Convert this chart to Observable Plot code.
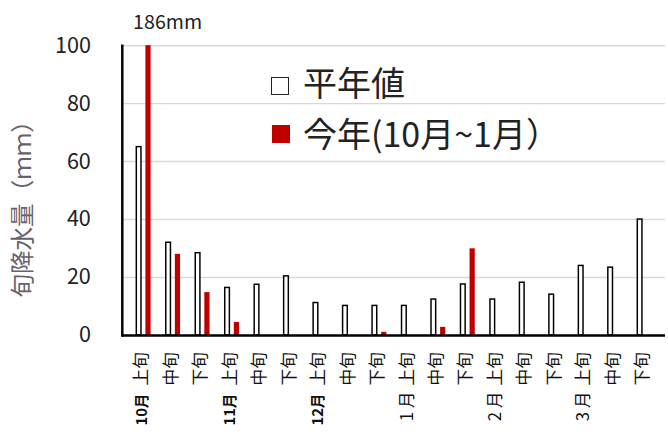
<!DOCTYPE html>
<html>
<head>
<meta charset="utf-8">
<script src="https://cdn.jsdelivr.net/npm/d3@7"></script>
<script src="https://cdn.jsdelivr.net/npm/@observablehq/plot@0.6"></script>
<style>
  html, body { margin: 0; padding: 0; background: #fff; overflow: hidden; }
  #wrap { position: relative; width: 668px; height: 434px; overflow: hidden; }
  .leg { position: absolute; font-family: "Noto Sans CJK JP", sans-serif; color: #222; font-size: 34px; line-height: 1; white-space: nowrap; }
  .sw { position: absolute; box-sizing: border-box; }
</style>
</head>
<body>
<div id="wrap"></div>
<script>
const categories = ["10月上旬","10月中旬","10月下旬","11月上旬","11月中旬","11月下旬","12月上旬","12月中旬","12月下旬","1月上旬","1月中旬","1月下旬","2月上旬","2月中旬","2月下旬","3月上旬","3月中旬","3月下旬"];
const junLabels = ["上旬","中旬","下旬","上旬","中旬","下旬","上旬","中旬","下旬","上旬","中旬","下旬","上旬","中旬","下旬","上旬","中旬","下旬"];
const monthLabels = ["10月","","","11月","","","12月","","","1 月","","","2 月","","","3 月","",""];
const boldMonth = [true,false,false,true,false,false,true,false,false,false,false,false,false,false,false,false,false,false];
const normalValues = [65, 32, 28.4, 16.4, 17.5, 20.4, 11.2, 10.2, 10.2, 10.2, 12.4, 17.6, 12.4, 18.2, 14.1, 24.0, 23.4, 40.0];
const thisYearValues = [186, 28, 14.8, 4.5, 0, 0, 0, 0, 1.1, 0, 2.8, 29.9, null, null, null, null, null, null];
const yTicks = [0, 20, 40, 60, 80, 100];
const yLabel = "旬降水量（ｍｍ）";
const legendNormal = "平年値";
const legendThisYear = "今年(10月~1月）";

const normalData = categories.map((c, i) => ({cat: c, v: normalValues[i]}));
const yearData = categories.map((c, i) => ({cat: c, v: thisYearValues[i]})).filter(d => d.v != null);
const overflow = yearData.filter(d => d.v > 100);
const labelData = categories.map((c, i) => ({cat: c, jun: junLabels[i], month: monthLabels[i], bold: boldMonth[i]}));

const font = "Noto Sans CJK JP, sans-serif";

const chart = Plot.plot({
  width: 680,
  height: 434,
  marginTop: 46,
  marginBottom: 93,
  marginLeft: 124,
  marginRight: 3,
  style: {fontFamily: font, background: "#fff"},
  x: {domain: categories, padding: 0, axis: null},
  y: {domain: [0, 100], clamp: true, axis: null},
  marks: [
    Plot.gridY(yTicks, {stroke: "#d9d9d9", strokeOpacity: 1, strokeWidth: 1.5}),
    Plot.axisY(yTicks, {tickSize: 0, tickPadding: 32, fontSize: 22, fill: "#222", label: null}),
    Plot.text([yLabel], {frameAnchor: "left", textAnchor: "middle", lineAnchor: "middle", rotate: -90, dx: -101, dy: 13, fontSize: 24, fill: "#6a5f6a"}),
    Plot.barY(normalData, {x: "cat", y: "v", fill: "white", stroke: "black", strokeWidth: 1.5, insetLeft: 7.75, insetRight: 17.5}),
    Plot.barY(yearData, {x: "cat", y: "v", fill: "#c00000", insetLeft: 17, insetRight: 7.7}),
    Plot.text(overflow, {x: "cat", y: 100, text: d => `${d.v}mm`, textAnchor: "start", dx: -11, dy: -23, fontSize: 20, fill: "#222"}),
    Plot.ruleY([0], {stroke: "black", strokeWidth: 2.5}),
    Plot.frame({anchor: "left", stroke: "black", strokeWidth: 2.5}),
    Plot.text(labelData, {x: "cat", text: "jun", frameAnchor: "bottom", rotate: -90, textAnchor: "end", lineAnchor: "middle", dx: -2, dy: 17, fontSize: 17, fill: "#111"}),
    Plot.text(labelData.filter(d => d.bold), {x: "cat", text: "month", frameAnchor: "bottom", rotate: -90, textAnchor: "end", lineAnchor: "middle", dx: -2, dy: 59, fontSize: 15, fontWeight: "bold", fill: "#111"}),
    Plot.text(labelData.filter(d => !d.bold && d.month), {x: "cat", text: "month", frameAnchor: "bottom", rotate: -90, textAnchor: "end", lineAnchor: "middle", dx: -2, dy: 57, fontSize: 17, fill: "#111"})
  ]
});

const wrap = document.getElementById("wrap");
wrap.appendChild(chart);

function addLegend(label, top, swatchStyle) {
  const sw = document.createElement("div");
  sw.className = "sw";
  Object.assign(sw.style, swatchStyle);
  wrap.appendChild(sw);
  const t = document.createElement("div");
  t.className = "leg";
  t.textContent = label;
  t.style.left = "303px";
  t.style.top = top + "px";
  wrap.appendChild(t);
}
addLegend(legendNormal, 65, {left: "271px", top: "77px", width: "18px", height: "18px", border: "1.5px solid #222", background: "#fff"});
addLegend(legendThisYear, 116, {left: "272px", top: "125px", width: "18px", height: "18px", background: "#c00000"});
</script>
</body>
</html>
